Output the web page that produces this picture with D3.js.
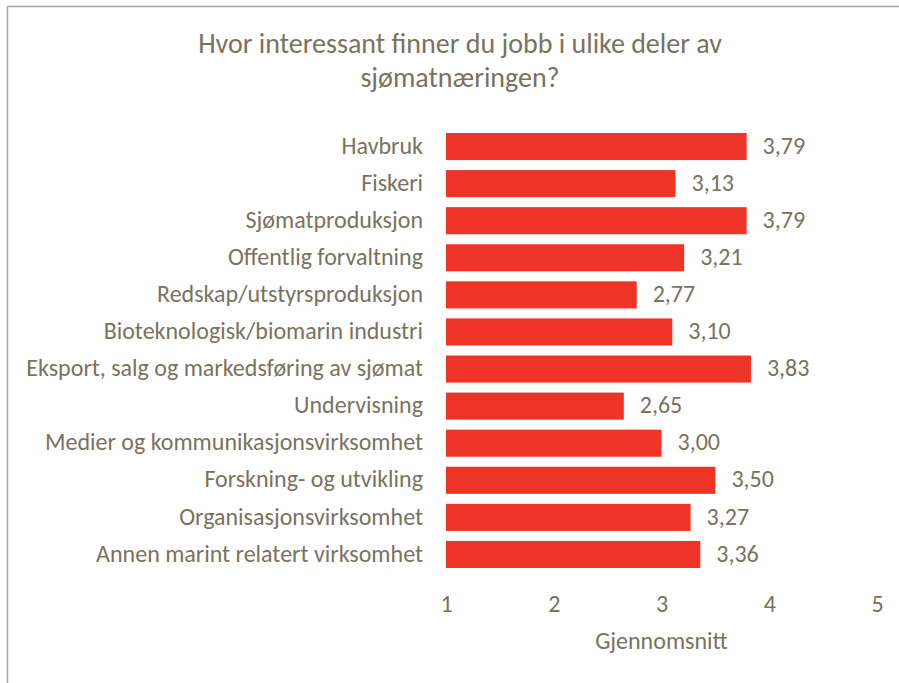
<!DOCTYPE html>
<html>
<head>
<meta charset="utf-8">
<script src="https://cdn.jsdelivr.net/npm/d3@7"></script>
<style>
  body { margin: 0; background: #fff; }
  text { font-family: Carlito, "Open Sans", sans-serif; fill: #77735f; }
</style>
</head>
<body>
<svg id="chart"></svg>
<script>
const categories = [
  'Havbruk',
  'Fiskeri',
  'Sjømatproduksjon',
  'Offentlig forvaltning',
  'Redskap/utstyrsproduksjon',
  'Bioteknologisk/biomarin industri',
  'Eksport, salg og markedsføring av sjømat',
  'Undervisning',
  'Medier og kommunikasjonsvirksomhet',
  'Forskning- og utvikling',
  'Organisasjonsvirksomhet',
  'Annen marint relatert virksomhet'
];
const values = [3.79, 3.13, 3.79, 3.21, 2.77, 3.10, 3.83, 2.65, 3.00, 3.50, 3.27, 3.36];
const ticks = [1, 2, 3, 4, 5];
const titleLines = ['Hvor interessant finner du jobb i ulike deler av', 'sjømatnæringen?'];
const axisTitle = 'Gjennomsnitt';

const width = 899;
const height = 683;
const svg = d3.select('#chart')
  .attr('width', width)
  .attr('height', height);

// chart frame (right and bottom edges fall outside the picture)
svg.append('rect')
  .attr('x', 7.5)
  .attr('y', 6.5)
  .attr('width', width)
  .attr('height', height)
  .attr('fill', 'none')
  .attr('stroke', '#a6a6a6')
  .attr('stroke-width', 1.5);

const x = d3.scaleLinear()
  .domain([1, 5])
  .range([446, 877]);

const y = d3.scaleBand()
  .domain(categories)
  .range([128, 573])
  .paddingInner(0.27)
  .paddingOuter(0.135);

const fs = '24px';

svg.selectAll('.bar')
  .data(values)
  .enter()
  .append('rect')
  .attr('class', 'bar')
  .attr('x', x(1))
  .attr('y', (d, i) => y(categories[i]))
  .attr('width', d => x(d) - x(1))
  .attr('height', y.bandwidth())
  .attr('fill', '#ee3327');

// category labels
svg.selectAll('.cat')
  .data(categories)
  .enter()
  .append('text')
  .attr('class', 'cat')
  .attr('x', x(1) - 23)
  .attr('y', d => y(d) + y.bandwidth() / 2)
  .attr('dy', '0.3em')
  .attr('text-anchor', 'end')
  .style('font-size', fs)
  .text(d => d);

// value labels
svg.selectAll('.val')
  .data(values)
  .enter()
  .append('text')
  .attr('class', 'val')
  .attr('x', d => x(d) + 16)
  .attr('y', (d, i) => y(categories[i]) + y.bandwidth() / 2)
  .attr('dy', '0.3em')
  .style('font-size', fs)
  .text(d => d3.format('.2f')(d).replace('.', ','));

// x axis (labels only)
const xAxis = d3.axisBottom(x)
  .tickValues(ticks)
  .tickSize(0)
  .tickPadding(0)
  .tickFormat(d3.format('d'));

const gx = svg.append('g')
  .attr('transform', 'translate(0,595)')
  .call(xAxis);
gx.select('.domain').remove();
gx.attr('font-family', null).attr('font-size', null);
gx.selectAll('text')
  .style('font-size', fs)
  .attr('fill', null);

svg.append('text')
  .attr('x', (x(1) + x(5)) / 2)
  .attr('y', 649)
  .attr('text-anchor', 'middle')
  .style('font-size', fs)
  .text(axisTitle);

svg.selectAll('.title')
  .data(titleLines)
  .enter()
  .append('text')
  .attr('class', 'title')
  .attr('x', 460)
  .attr('y', (d, i) => 53 + i * 34)
  .attr('text-anchor', 'middle')
  .style('font-size', '28px')
  .text(d => d);
</script>
</body>
</html>
